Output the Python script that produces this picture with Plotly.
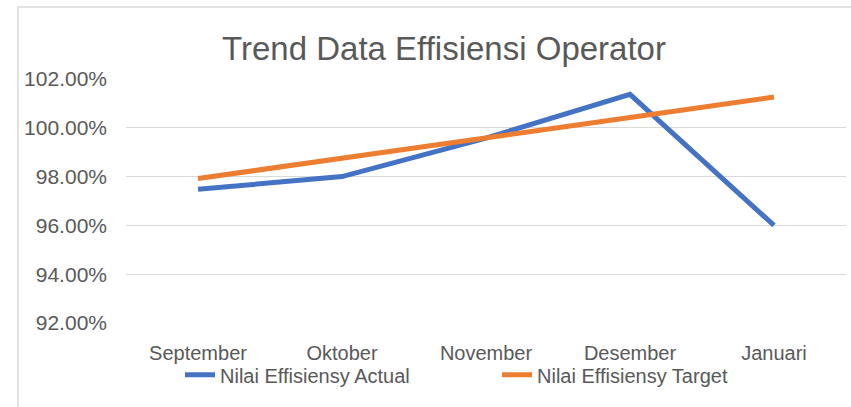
import plotly.graph_objects as go

months = ["September", "Oktober", "November", "Desember", "Januari"]
actual = [97.48, 98.0, 99.58, 101.37, 96.0]
target = [97.92, 98.74, 99.58, 100.42, 101.26]
y_ticks = [92, 94, 96, 98, 100, 102]
y_labels = [f"{v:.2f}%" for v in y_ticks]

FONT = "Liberation Sans, Arial, sans-serif"
GREY = "#595959"

fig = go.Figure()
fig.add_trace(go.Scatter(
    x=months, y=actual, mode="lines", name="Nilai Effisiensy Actual",
    line=dict(color="#4472C4", width=5), cliponaxis=False,
))
fig.add_trace(go.Scatter(
    x=months, y=target, mode="lines", name="Nilai Effisiensy Target",
    line=dict(color="#ED7D31", width=5), cliponaxis=False,
))

fig.update_layout(
    width=851, height=407,
    margin=dict(l=126, r=5, t=79, b=84, autoexpand=False),
    paper_bgcolor="white", plot_bgcolor="white",
    font=dict(family=FONT, color=GREY, size=20),
    title=dict(text="Trend Data Effisiensi Operator", x=444 / 851, xanchor="center",
               xref="container", y=1 - 48 / 407, yanchor="middle", yref="container",
               font=dict(size=33, color=GREY)),
    showlegend=True,
    legend=dict(orientation="h", x=(180 - 126) / 720, xanchor="left", y=-0.212, yanchor="middle",
                font=dict(size=20, color=GREY), itemwidth=30, entrywidth=272,
                bgcolor="rgba(0,0,0,0)"),
    xaxis=dict(range=[-0.5, 4.5], showgrid=False, showline=False, ticks="",
               ticklabelstandoff=16, tickfont=dict(size=20, color=GREY), fixedrange=True),
    yaxis=dict(range=[92, 102], tickvals=y_ticks, ticktext=y_labels, showgrid=True,
               gridcolor="#D9D9D9", gridwidth=1.3, zeroline=False, showline=False,
               ticks="", ticklabelstandoff=18, tickfont=dict(size=21, color=GREY)),
)

# outer chart border (left and top edges visible)
fig.add_shape(type="rect", xref="paper", yref="paper",
              x0=(18 - 126) / 720, x1=(900 - 126) / 720,
              y0=-1, y1=(323 - 7) / 244,
              line=dict(color="#D9D9D9", width=1.5), layer="below")

fig.write_html("out.html", config={"displayModeBar": False},
               post_script="document.body.style.margin='0';")
